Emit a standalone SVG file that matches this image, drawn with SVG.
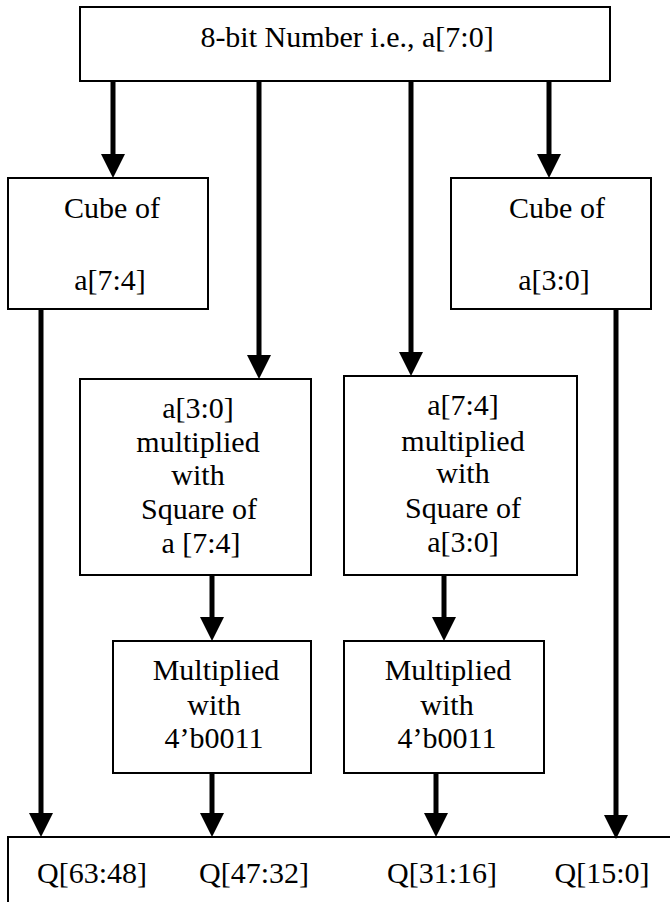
<svg xmlns="http://www.w3.org/2000/svg" width="670" height="902" viewBox="0 0 670 902">
<style>
  .box { fill: #ffffff; stroke: #000000; stroke-width: 2; }
  .t { font-family: "Liberation Serif", "Times New Roman", serif; font-size: 30px; fill: #000000; text-anchor: middle; }
  .c { stroke: #000000; stroke-width: 5; fill: none; }
</style>
<defs>
  <marker id="ah" markerUnits="userSpaceOnUse" markerWidth="24" markerHeight="24" viewBox="0 0 24 24" refX="0" refY="12" orient="auto">
    <path d="M0,0 L24,12 L0,24 Z" fill="#000000"/>
  </marker>
</defs>
<rect width="670" height="902" fill="#ffffff"/>

<g id="input">
  <rect class="box" x="80" y="7" width="530" height="74"/>
  <text class="t" x="347" y="47">8-bit Number i.e., a[7:0]</text>
</g>

<g id="cube-hi">
  <rect class="box" x="8" y="178" width="200" height="131"/>
  <text class="t" x="112" y="218">Cube of</text>
  <text class="t" x="110" y="290">a[7:4]</text>
</g>

<g id="cube-lo">
  <rect class="box" x="451" y="178" width="200" height="131"/>
  <text class="t" x="557" y="218">Cube of</text>
  <text class="t" x="554" y="290">a[3:0]</text>
</g>

<g id="mul-lo-sqhi">
  <rect class="box" x="80" y="379" width="231" height="196"/>
  <text class="t" x="198" y="418">a[3:0]</text>
  <text class="t" x="198" y="452">multiplied</text>
  <text class="t" x="198" y="485">with</text>
  <text class="t" x="199" y="519">Square of</text>
  <text class="t" x="201" y="553">a [7:4]</text>
</g>

<g id="mul-hi-sqlo">
  <rect class="box" x="344" y="376" width="233" height="199"/>
  <text class="t" x="463" y="415">a[7:4]</text>
  <text class="t" x="463" y="451">multiplied</text>
  <text class="t" x="463" y="483">with</text>
  <text class="t" x="463" y="518">Square of</text>
  <text class="t" x="463" y="552">a[3:0]</text>
</g>

<g id="times3-left">
  <rect class="box" x="113" y="641" width="198" height="132"/>
  <text class="t" x="216" y="680">Multiplied</text>
  <text class="t" x="214" y="715">with</text>
  <text class="t" x="214" y="748">4’b0011</text>
</g>

<g id="times3-right">
  <rect class="box" x="344" y="641" width="200" height="132"/>
  <text class="t" x="448" y="680">Multiplied</text>
  <text class="t" x="447" y="715">with</text>
  <text class="t" x="447" y="748">4’b0011</text>
</g>

<g id="output">
  <rect class="box" x="8" y="837" width="672" height="75"/>
  <text class="t" x="92" y="883">Q[63:48]</text>
  <text class="t" x="254" y="883">Q[47:32]</text>
  <text class="t" x="442" y="883">Q[31:16]</text>
  <text class="t" x="602" y="883">Q[15:0]</text>
</g>

<g id="connectors">
  <line class="c" x1="113" y1="81" x2="113" y2="154" marker-end="url(#ah)"/>
  <line class="c" x1="259" y1="81" x2="259" y2="355" marker-end="url(#ah)"/>
  <line class="c" x1="411" y1="81" x2="411" y2="352" marker-end="url(#ah)"/>
  <line class="c" x1="549" y1="81" x2="549" y2="154" marker-end="url(#ah)"/>
  <line class="c" x1="41" y1="309" x2="41" y2="813" marker-end="url(#ah)"/>
  <line class="c" x1="616" y1="309" x2="616" y2="815" marker-end="url(#ah)"/>
  <line class="c" x1="212" y1="575" x2="212" y2="617" marker-end="url(#ah)"/>
  <line class="c" x1="444" y1="575" x2="444" y2="617" marker-end="url(#ah)"/>
  <line class="c" x1="212" y1="773" x2="212" y2="813" marker-end="url(#ah)"/>
  <line class="c" x1="436" y1="773" x2="436" y2="813" marker-end="url(#ah)"/>
</g>
</svg>
